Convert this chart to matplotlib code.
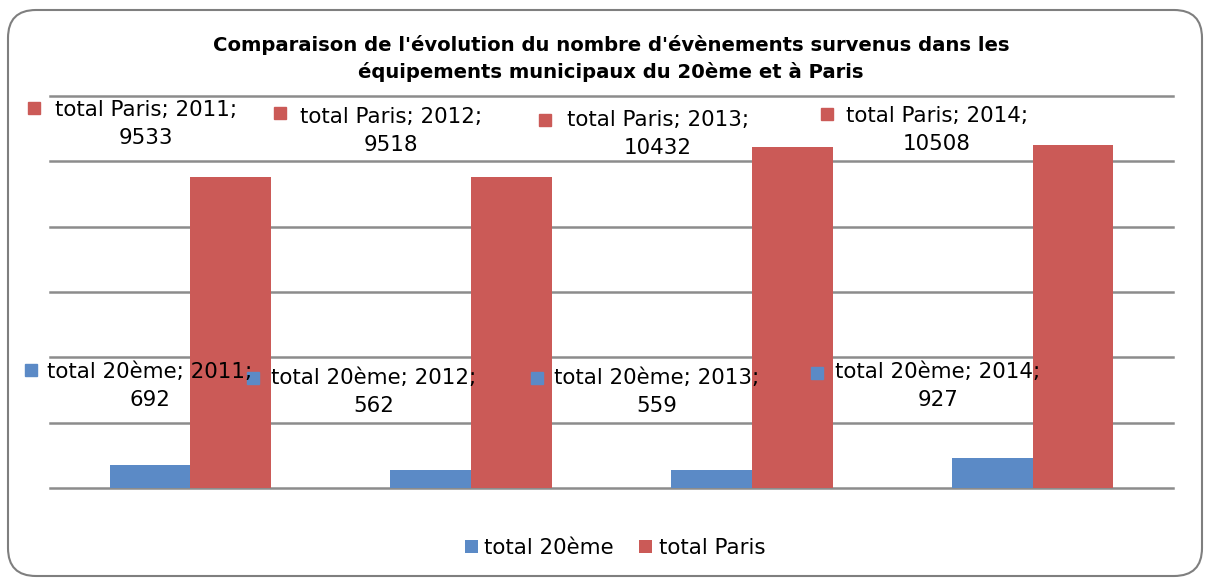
import numpy as np
import matplotlib
matplotlib.use("Agg")
import matplotlib.pyplot as plt
from matplotlib.patches import FancyBboxPatch

# data
years        = ["2011", "2012", "2013", "2014"]
total_20eme  = [692, 562, 559, 927]
total_paris  = [9533, 9518, 10432, 10508]
series_names = ["total 20ème", "total Paris"]
title_txt    = ("Comparaison de l'évolution du nombre d'évènements survenus dans les\n"
                "équipements municipaux du 20ème et à Paris")

# where excel dropped the data labels (pixel coords from top-left): text centre, key square
paris_lbl_pos  = [(146, 124), (391, 131), (658, 134), (937, 130)]
paris_key_pos  = [(34, 108), (280, 113), (545, 120), (827, 114)]
e20_lbl_pos    = [(150, 386), (374, 392), (657, 392), (938, 386)]
e20_key_pos    = [(31, 370), (253, 378), (537, 378), (817, 373)]

W, H = 1208, 578
c_blue = '#5B8AC6'
c_red  = '#CB5A57'
c_grid = '#8C8C8C'
fs     = 15.4

plt.rcParams['font.family'] = ['DejaVu Sans']

fig = plt.figure(figsize=(W / 100, H / 100), dpi=100)
ax  = fig.add_axes([50 / W, 1 - 488 / H, 1123 / W, 392 / H])

x  = np.arange(len(years))
bw = 0.288
ax.bar(x - bw / 2, total_20eme, bw, color=c_blue, zorder=2, label=series_names[0])
ax.bar(x + bw / 2, total_paris, bw, color=c_red, zorder=2, label=series_names[1])

ax.set_xlim(-0.5, 3.5)
ax.set_ylim(0, 12000)
ax.set_yticks(np.arange(0, 12001, 2000))
ax.set_xticks([])
ax.tick_params(left=False, labelleft=False)
ax.grid(axis='y', color=c_grid, lw=1.8, zorder=0)
for gl in ax.get_ygridlines():
    gl.set_clip_on(False)
for s in ax.spines.values():
    s.set_visible(False)

def fpos(p):
    return p[0] / W, 1 - p[1] / H

# data labels
for i in range(len(years)):
    fig.text(*fpos(paris_lbl_pos[i]), "%s; %s;\n%d" % (series_names[1], years[i], total_paris[i]),
             ha='center', va='center', multialignment='center', fontsize=fs, linespacing=1.45,
             zorder=5)
    fig.text(*fpos(e20_lbl_pos[i]), "%s; %s;\n%d" % (series_names[0], years[i], total_20eme[i]),
             ha='center', va='center', multialignment='center', fontsize=fs, linespacing=1.45,
             zorder=5)
    kx, ky = fpos(paris_key_pos[i])
    fig.add_artist(plt.Line2D([kx], [ky], marker='s', ms=9, color=c_red, lw=0,
                              transform=fig.transFigure))
    kx, ky = fpos(e20_key_pos[i])
    fig.add_artist(plt.Line2D([kx], [ky], marker='s', ms=9, color=c_blue, lw=0,
                              transform=fig.transFigure))

fig.text(611 / W, 1 - 58.5 / H, title_txt, ha='center', va='center',
         fontsize=14.1, fontweight='bold', linespacing=1.4)

fig.legend(loc='center', bbox_to_anchor=(615 / W, 1 - 548 / H), ncol=2, frameon=False,
           fontsize=fs, handlelength=0.6, handleheight=0.6, handletextpad=0.3,
           columnspacing=1.2, borderpad=0)

# rounded border of the chart area
border = FancyBboxPatch((8, 2), 1194, 566, boxstyle="round,pad=0,rounding_size=28",
                        fc='none', ec='#7F7F7F', lw=1.5, transform=None)
fig.patches.append(border)

fig.savefig('out.png', dpi=100)
